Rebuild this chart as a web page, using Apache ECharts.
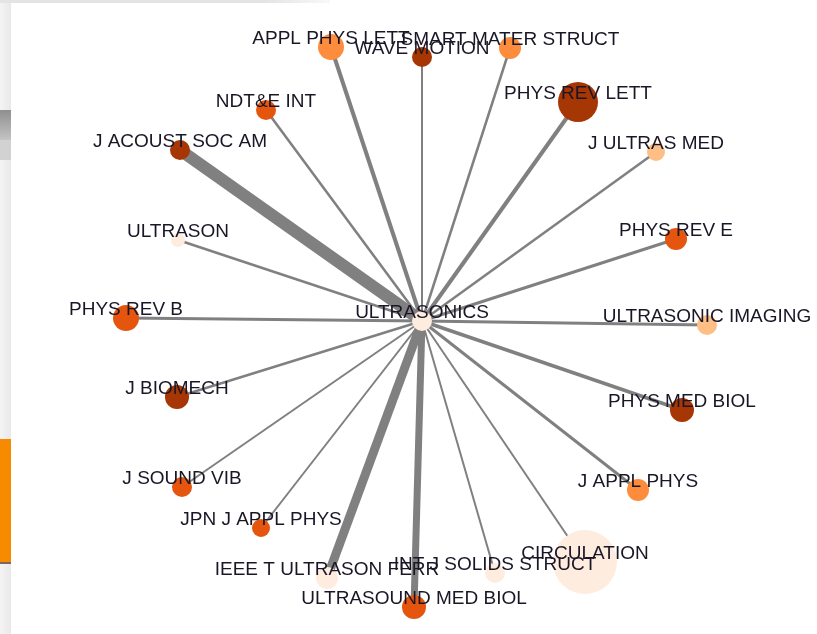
<!DOCTYPE html>
<html>
<head>
<meta charset="utf-8">
<title>ULTRASONICS network</title>
<script src="https://cdn.jsdelivr.net/npm/echarts@6/dist/echarts.min.js"></script>
<style>
  html, body { margin: 0; padding: 0; background: #fff; }
  #chart { width: 817px; height: 634px; }
</style>
</head>
<body>
<div id="chart"></div>
<script>
// journals around the centre node (index 0 is the centre)
var names = ['ULTRASONICS', 'APPL PHYS LETT', 'WAVE MOTION', 'SMART MATER STRUCT', 'PHYS REV LETT',
  'NDT&E INT', 'J ACOUST SOC AM', 'J ULTRAS MED', 'ULTRASON', 'PHYS REV E', 'PHYS REV B',
  'ULTRASONIC IMAGING', 'J BIOMECH', 'PHYS MED BIOL', 'J SOUND VIB', 'J APPL PHYS',
  'JPN J APPL PHYS', 'IEEE T ULTRASON FERR', 'ULTRASOUND MED BIOL', 'INT J SOLIDS STRUCT', 'CIRCULATION'];
var posX = [422, 331, 422, 510, 578, 266, 180, 656, 178, 676, 126, 707, 177, 682, 182, 638, 261, 327, 414, 495, 585];
var posY = [321, 47, 57, 48, 102, 110, 150, 152, 240, 239, 318, 325, 397, 410, 487, 490, 528, 578, 607, 573, 562];
// node size (diameter)
var sizes = [20, 26, 20, 22, 40, 20, 20, 18, 14, 22, 26, 20, 24, 24, 20, 22, 18, 22, 24, 20, 64];
// colour level 0..4
var levels = [0, 2, 4, 2, 4, 3, 4, 1, 0, 3, 3, 1, 4, 4, 3, 2, 3, 0, 3, 0, 0];
// edge weight from centre to node i (i >= 1)
var weights = [0, 4, 2, 2.5, 4, 2.5, 12, 2.5, 2.5, 3, 3, 3, 2.5, 3.5, 2, 3, 2, 9, 7, 2, 2];

var palette = ['#feeddf', '#fdbf86', '#fd8d3c', '#e6550d', '#a63603'];

var nodes = names.map(function (n, i) {
    return {
        name: n,
        x: posX[i],
        y: posY[i],
        symbolSize: sizes[i],
        itemStyle: { color: palette[levels[i]] }
    };
});
var links = [];
for (var i = 1; i < names.length; i++) {
    links.push({ source: names[0], target: names[i], lineStyle: { width: weights[i] } });
}

var minX = Math.min.apply(null, posX), maxX = Math.max.apply(null, posX);
var minY = Math.min.apply(null, posY), maxY = Math.max.apply(null, posY);

var chart = echarts.init(document.getElementById('chart'));
var option = {
    backgroundColor: '#ffffff',
    animation: false,
    graphic: [
        { type: 'rect', z: -10, shape: { x: 0, y: 0, width: 11, height: 634 },
          style: { fill: new echarts.graphic.LinearGradient(0, 0, 1, 0, [
              { offset: 0, color: '#f4f4f4' }, { offset: 1, color: '#e9e9e9' }]) } },
        { type: 'rect', z: -10, shape: { x: 0, y: 0, width: 330, height: 3 },
          style: { fill: new echarts.graphic.LinearGradient(0, 0, 1, 0, [
              { offset: 0, color: '#e4e4e4' }, { offset: 0.8, color: '#e4e4e4' }, { offset: 1, color: '#f8f8f8' }]) } },
        { type: 'rect', z: -10, shape: { x: 0, y: 110, width: 11, height: 30 },
          style: { fill: new echarts.graphic.LinearGradient(0, 0, 0, 1, [
              { offset: 0, color: '#8f8f8f' }, { offset: 1, color: '#c4c4c4' }]) } },
        { type: 'rect', z: -10, shape: { x: 0, y: 140, width: 11, height: 20 },
          style: { fill: '#d2d2d2' } },
        { type: 'rect', z: -10, shape: { x: 0, y: 439, width: 11, height: 123 },
          style: { fill: '#f68b00' } },
        { type: 'rect', z: -10, shape: { x: 0, y: 562, width: 11, height: 2 },
          style: { fill: '#7a6a5a' } }
    ],
    series: [
        {
            type: 'graph',
            layout: 'none',
            left: minX,
            top: minY,
            width: maxX - minX,
            height: maxY - minY,
            roam: false,
            data: nodes,
            links: links,
            lineStyle: { color: '#808080', opacity: 1, curveness: 0 },
            label: {
                show: true,
                position: 'inside',
                offset: [0, -8],
                fontFamily: 'Liberation Sans, Arial, sans-serif',
                fontSize: 19,
                color: '#1a1626'
            },
            emphasis: { disabled: true }
        }
    ]
};
chart.setOption(option);
</script>
</body>
</html>
